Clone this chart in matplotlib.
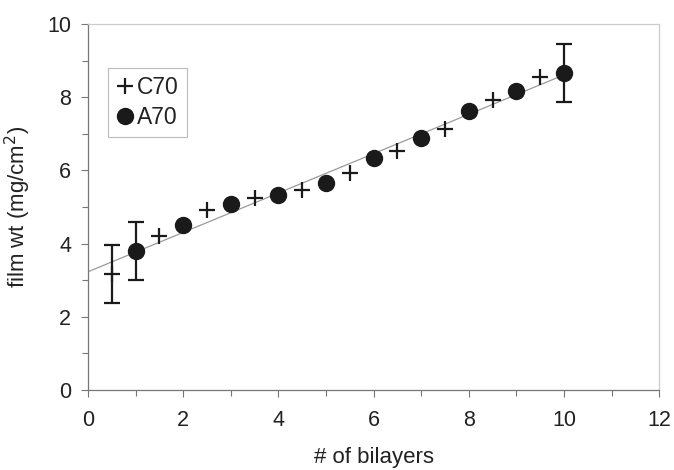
import numpy as np
import matplotlib
matplotlib.use("Agg")
import matplotlib.pyplot as plt

plt.rcParams['font.family'] = ['Liberation Sans', 'DejaVu Sans']

# C70 data (half-integer bilayers)
c70_x = [0.5, 1.5, 2.5, 3.5, 4.5, 5.5, 6.5, 7.5, 8.5, 9.5]
c70_y = [3.17, 4.2, 4.92, 5.25, 5.46, 5.93, 6.53, 7.13, 7.92, 8.55]
# A70 data (integer bilayers)
a70_x = [1, 2, 3, 4, 5, 6, 7, 8, 9, 10]
a70_y = [3.8, 4.5, 5.08, 5.33, 5.66, 6.34, 6.88, 7.62, 8.17, 8.66]

# error bars shown on a few points
c70_err_x = [0.5]
c70_err_y = [3.17]
c70_err = [0.79]
a70_err_x = [1, 10]
a70_err_y = [3.8, 8.66]
a70_err = [0.79, 0.8]

xticks = [0, 2, 4, 6, 8, 10, 12]
yticks = [0, 2, 4, 6, 8, 10]

fig = plt.figure(figsize=(6.74, 4.70), dpi=100)
ax = fig.add_axes([0.1306, 0.170, 0.8474, 0.779])

# linear trend over all data
allx = np.array(c70_x + a70_x)
ally = np.array(c70_y + a70_y)
m, b = np.polyfit(allx, ally, 1)
lx = np.array([0, 10])
ax.plot(lx, m * lx + b, color='#9a9a9a', lw=0.9, zorder=1)

ax.errorbar(c70_err_x, c70_err_y, yerr=c70_err, fmt='none', ecolor='#1a1a1a',
            elinewidth=1.6, capsize=6, capthick=1.6, zorder=2)
ax.errorbar(a70_err_x, a70_err_y, yerr=a70_err, fmt='none', ecolor='#1a1a1a',
            elinewidth=1.6, capsize=6, capthick=1.6, zorder=2)

ax.plot(c70_x, c70_y, linestyle='none', marker='+', color='#1a1a1a',
        markersize=11.5, markeredgewidth=1.6, label='C70', zorder=3)
ax.plot(a70_x, a70_y, linestyle='none', marker='o', color='#1a1a1a',
        markersize=11.5, label='A70', zorder=3)

ax.set_xlim(0, 12)
ax.set_ylim(0, 10)
ax.set_xticks(xticks)
ax.set_yticks(yticks)
ax.set_xticks(np.arange(0, 13, 1), minor=True)
ax.set_yticks(np.arange(0, 11, 1), minor=True)
ax.tick_params(axis='both', which='major', labelsize=15.5, length=5, width=0.8,
               color='#777777', labelcolor='#222222')
ax.tick_params(axis='x', which='major', pad=9)
ax.tick_params(axis='y', which='major', pad=7)
ax.tick_params(axis='both', which='minor', length=4, width=0.8, color='#777777')

for s in ['left', 'bottom']:
    ax.spines[s].set_color('#777777')
    ax.spines[s].set_linewidth(0.9)
for s in ['top', 'right']:
    ax.spines[s].set_color('#cccccc')
    ax.spines[s].set_linewidth(0.9)

ax.set_xlabel('# of bilayers', fontsize=16, labelpad=12, color='#222222')
ax.set_ylabel('film wt (mg/cm$^2$)', fontsize=16, labelpad=10, color='#222222')

leg = ax.legend(loc='upper left', bbox_to_anchor=(0.0355, 0.88), fontsize=16.5,
                frameon=True, fancybox=False, handlelength=0.75, handletextpad=0.15,
                borderpad=0.35, labelspacing=0.3, borderaxespad=0)
leg.get_frame().set_edgecolor('#aaaaaa')
leg.get_frame().set_linewidth(0.8)
for t in leg.get_texts():
    t.set_color('#222222')

fig.savefig('out.png', dpi=100)
